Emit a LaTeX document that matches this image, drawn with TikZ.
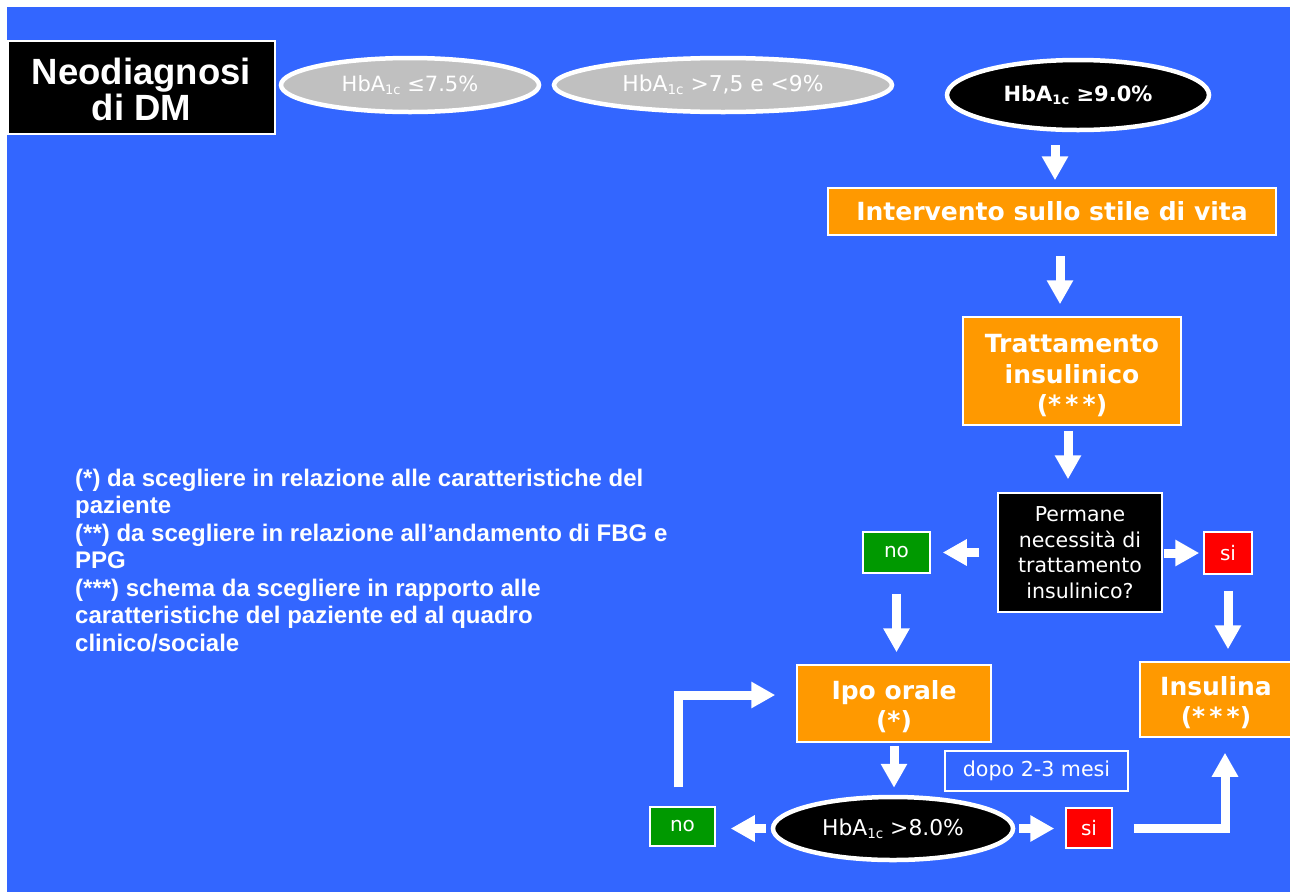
\documentclass[tikz,border=0pt]{standalone}
\usepackage{fontspec}
\setmainfont{DejaVu Sans}
\newfontfamily\arialf{Liberation Sans}
\usetikzlibrary{shapes.geometric,arrows.meta}
\definecolor{bgblue}{HTML}{3366FF}
\definecolor{orangeC}{HTML}{FF9900}
\definecolor{greenC}{HTML}{009900}
\definecolor{redC}{HTML}{FF0000}
\definecolor{grayC}{HTML}{C0C0C0}
\newcommand{\hbsub}{\raisebox{-0.12em}{\scalebox{0.62}{1c}}}
\newcommand{\lowr}[1]{\rule{0pt}{#1}}
\tikzset{
  ora/.style={draw=white, line width=1.5pt, fill=orangeC, text=white, align=center, inner sep=0pt,
    font=\bfseries\fontsize{25}{30.5}\selectfont},
  blackbox/.style={draw=white, line width=1.5pt, fill=black, text=white, align=center, inner sep=0pt},
  grayell/.style={ellipse, draw=white, line width=4.5pt, fill=grayC, text=white, inner sep=0pt,
    font=\fontsize{21}{25}\selectfont},
  blackell/.style={ellipse, draw=white, line width=4.5pt, fill=black, text=white, inner sep=0pt},
  yesbox/.style={draw=white, line width=1.5pt, fill=redC, text=white, inner sep=0pt, font=\fontsize{20}{24}\selectfont},
  nobox/.style={draw=white, line width=1.5pt, fill=greenC, text=white, inner sep=0pt, font=\fontsize{20}{24}\selectfont},
  arr/.style={draw=white, line width=9pt, -{Triangle[length=24pt,width=25pt]}},
}
\begin{document}
\begin{tikzpicture}[x=1pt,y=-1pt]
\useasboundingbox (0,0) rectangle (1290,892);
\fill[white] (0,0) rectangle (1290,892);
\fill[bgblue] (7,7) rectangle (1290,892);

% top row
\node[blackbox, minimum width=267pt, minimum height=93pt,
  font=\arialf\bfseries\fontsize{36.5}{35.5}\selectfont] (neo) at (141.5,87.5) {\lowr{30pt}Neodiagnosi\\di DM};
\node[grayell, minimum width=258pt, minimum height=54pt] (e1) at (410,85) {HbA\hbsub{} ≤7.5\%};
\node[grayell, minimum width=338pt, minimum height=54pt, font=\fontsize{21.8}{25}\selectfont] (e2) at (723,85) {HbA\hbsub{} >7,5 e <9\%};
\node[blackell, minimum width=262pt, minimum height=70pt, font=\bfseries\fontsize{21}{25}\selectfont] (e3) at (1078,95) {HbA\hbsub{} ≥9.0\%};

% right column
\node[ora, minimum width=448pt, minimum height=47pt] (interv) at (1052,211.5) {Intervento sullo stile di vita};
\node[ora, minimum width=218pt, minimum height=108pt] (tratt) at (1072,371) {\lowr{28pt}Trattamento\\insulinico\\(*\,*\,*)};
\node[blackbox, minimum width=164pt, minimum height=119pt, font=\fontsize{20.5}{25.5}\selectfont] (perm) at (1080,552.5)
  {Permane\\necessità di\\trattamento\\insulinico?};
\node[yesbox, minimum width=48pt, minimum height=42pt] (si1) at (1228,553) {si};
\node[nobox, minimum width=67pt, minimum height=41pt] (no1) at (896.5,552.5) {no};
\node[ora, minimum width=194pt, minimum height=77pt] (ipo) at (894,703.5) {\lowr{25pt}Ipo orale\\(*)};
\node[ora, minimum width=152pt, minimum height=75pt] (insu) at (1216,699.5) {\lowr{25pt}Insulina\\(*\,*\,*)};
\node[draw=white, line width=1.5pt, minimum width=183pt, minimum height=40pt, inner sep=0pt, text=white,
  font=\fontsize{20.6}{24}\selectfont] (dopo) at (1036.5,771) {dopo 2-3 mesi};
\node[blackell, minimum width=240pt, minimum height=63pt, font=\fontsize{21.8}{25}\selectfont] (hb8) at (893,828.5) {HbA\hbsub{} >8.0\%};
\node[nobox, minimum width=65pt, minimum height=39pt] (no2) at (682.5,826.5) {no};
\node[yesbox, minimum width=46pt, minimum height=40pt] (si2) at (1089,828) {si};

% notes
\node[anchor=base west, align=left, inner sep=0pt, text=white,
  font=\arialf\bfseries\fontsize{24}{27.5}\selectfont] (notes) at (75,651)
  {(*) da scegliere in relazione alle caratteristiche del\\
   paziente\\
   (**) da scegliere in relazione all’andamento di FBG e\\
   PPG\\
   (***) schema da scegliere in rapporto alle\\
   caratteristiche del paziente ed al quadro\\
   clinico/sociale};

% connectors
\draw[arr, shorten <=13pt, shorten >=7pt] ([xshift=3pt]interv.north |- e3.south) -- ([xshift=3pt]interv.north);
\draw[arr, shorten <=20pt, shorten >=12pt] ([xshift=8pt]interv.south) -- ([xshift=8pt]interv.south |- tratt.north);
\draw[arr, shorten <=5pt, shorten >=13pt] ([xshift=-4pt]tratt.south) -- ([xshift=-4pt]tratt.south |- perm.north);
\draw[arr, shorten <=1pt, shorten >=4pt] (perm.east |- si1.west) -- (si1.west);
\draw[arr, shorten <=18pt, shorten >=12pt] (perm.west |- no1.east) -- (no1.east);
\draw[arr, shorten <=20pt, shorten >=12pt] (no1.south) -- (no1.south |- ipo.north);
\draw[arr, shorten <=16pt, shorten >=12pt] (si1.south) -- (si1.south |- insu.north);
\draw[arr, shorten <=3pt, shorten >=7pt] (ipo.south) -- (ipo.south |- hb8.north);
\draw[arr, shorten <=5pt, shorten >=15pt] (hb8.west) -- (hb8.west -| no2.east);
\draw[arr, shorten <=4pt, shorten >=11pt] (hb8.east) -- (hb8.east -| si2.west);
\draw[arr, shorten <=21pt, shorten >=15pt] (si2.east) -| ([xshift=9pt]insu.south);
\draw[arr, shorten <=19pt, shorten >=21pt] ([xshift=-4pt]no2.north) |- ([yshift=8.5pt]ipo.west);
\end{tikzpicture}
\end{document}
